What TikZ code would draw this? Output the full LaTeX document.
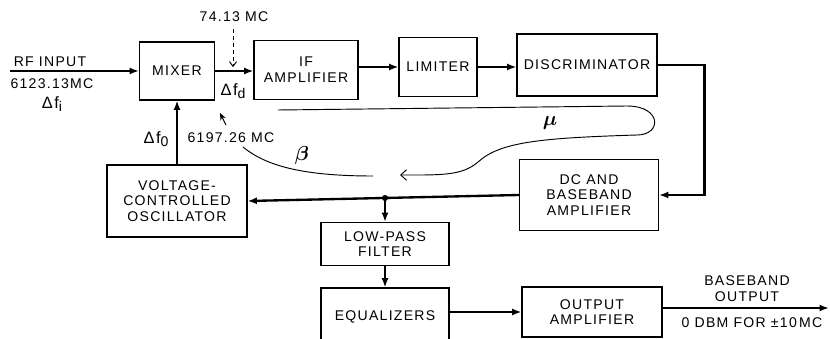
\documentclass[tikz,border=0pt]{standalone}
\usepackage{amsmath}
\usepackage{fontspec}
\setmainfont{Liberation Sans}[LetterSpace=9]
\usepackage{tikz}
\usetikzlibrary{arrows.meta,positioning,calc}
\newcommand{\delf}[1]{{\fontsize{14}{16}\selectfont Δf}\raisebox{-0.45ex}{#1}}

\begin{document}
\begin{tikzpicture}[x=0.03cm, y=-0.03cm, font=\fontsize{12}{13.5}\selectfont,
    blk/.style={draw, line width=0.9pt, align=center, inner sep=0pt},
    conn/.style={line width=2pt, -{Latex[length=8pt,width=6pt]}},
    wire/.style={line width=2pt},
    thinline/.style={line width=0.8pt}]
        \useasboundingbox (0,0) rectangle (830,339);
        \clip (0,0) rectangle (830,339);
        % forward path
        \node[blk, minimum width=2.25cm, minimum height=1.74cm] (mix) at (177,71) {MIXER};
        \node[blk, minimum width=3.12cm, minimum height=1.77cm] (ifamp) at (306,70) {IF\\AMPLIFIER};
        \node[blk, minimum width=2.34cm, minimum height=1.77cm] (lim) at (438,67) {LIMITER};
        \node[blk, minimum width=4.2cm, minimum height=1.86cm] (disc) at (587,65) {DISCRIMINATOR};
        % loop and output branch
        \node[blk, minimum width=4.17cm, minimum height=2.13cm] (dcamp) at (589,195) {DC AND\\BASEBAND\\AMPLIFIER};
        \node[blk, minimum width=4.2cm, minimum height=2.16cm] (vco) at (177,201) {VOLTAGE-\\CONTROLLED\\OSCILLATOR};
        \node[blk, minimum width=3.84cm, minimum height=1.29cm] (lpf) at (385,244) {LOW-PASS\\FILTER};
        \node[blk, minimum width=3.84cm, minimum height=1.74cm] (eq) at (385,317) {EQUALIZERS};
        \node[blk, minimum width=4.2cm, minimum height=1.5cm] (outamp) at (592,312) {OUTPUT\\AMPLIFIER};
        \coordinate (rfin) at (10,71);
        \coordinate (bbout) at (829,308);
        \coordinate (jn) at (385,198);
        % connectors
        \draw[conn] (rfin) -- (mix.west);
        \draw[conn] (mix.east) -- (mix.east -| ifamp.west);
        \draw[conn] (ifamp.east |- lim.west) -- (lim.west);
        \draw[conn] (lim.east) -- (lim.east -| disc.west);
        \draw[conn] (disc.east) -- ++(47,0) |- (dcamp.east);
        \draw[conn] (dcamp.west) -- (vco.east);
        \draw[conn] (vco.north) -- (mix.south);
        \draw[conn] (jn) -- (lpf.north);
        \fill (jn) circle (2.6pt);
        \draw[conn] (lpf.south) -- (eq.north);
        \draw[conn] (eq.east |- outamp.west) -- (outamp.west);
        \draw[conn] (outamp.east |- bbout) -- (bbout);
        % 74.13 MC injection
        \node (lo) at (234,17) {74.13 MC};
        \draw[thinline, dashed, -{Straight Barb[length=4pt,width=6pt]}] (lo.south) ++(-1,3) -- ++(0,38);
        % labels
        \node (rflbl) at (50,62) {RF INPUT};
        \node (rffreq) at (52,84) {6123.13MC};
        \node (dfi) at (52,104) {\delf{i}};
        \node (dfd) at (233,91) {\delf{d}};
        \node (dfo) at (156,139) {\delf{0}};
        \node (vcofreq) at (231,138) {6197.26 MC};
        \node[align=center] (outlbl) at (747,289) {BASEBAND\\OUTPUT};
        \node (outlvl) at (752,323) {0 DBM FOR ±10\,MC};
        % mu and beta loop
        \node (mu) at (550,123) {\LARGE $\boldsymbol{\mu}$};
        \node (beta) at (302,155) {\LARGE $\boldsymbol{\beta}$};
        \draw[thinline, -{Straight Barb[length=5pt,width=9pt]}] (278,110) -- (627,106)
            .. controls (662,106) and (662,135) .. (637,135)
            .. controls (540,138) and (500,142) .. (478,162)
            .. controls (462,176) and (440,175) .. (400,175);
        \draw[thinline] (373,176) .. controls (300,176) and (265,165) .. (243,147);
        \draw[thinline, -{Stealth[length=6pt,width=5pt]}] (226,125) -- (220,113);
\end{tikzpicture}
\end{document}
